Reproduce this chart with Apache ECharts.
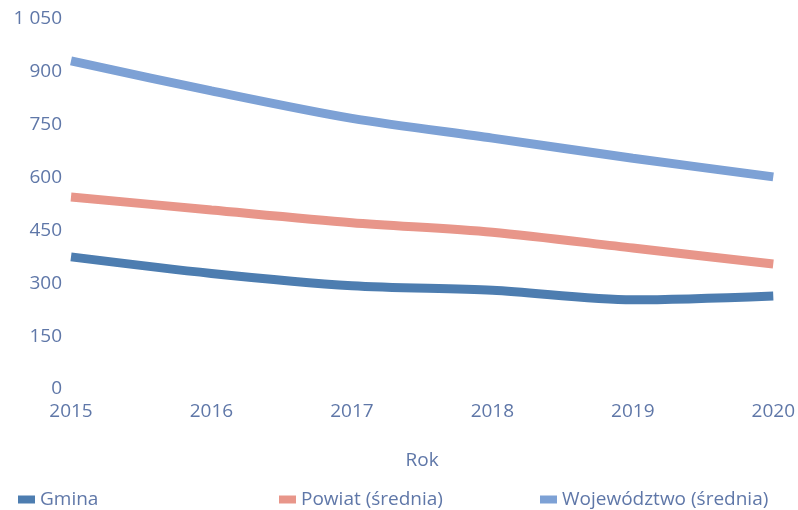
<!DOCTYPE html>
<html>
<head>
<meta charset="utf-8">
<script src="https://cdn.jsdelivr.net/npm/echarts@6/dist/echarts.min.js"></script>
<style>
  html, body { margin: 0; padding: 0; background: #fff; }
  #chart { width: 798px; height: 510px; }
</style>
</head>
<body>
<div id="chart"></div>
<script>
// lata i wartości
const years = ['2015', '2016', '2017', '2018', '2019', '2020'];
const gmina = [375, 328, 293, 280, 253, 264];
const powiat = [545, 508, 472, 445, 400, 355];
const wojewodztwo = [931, 846, 768, 712, 655, 602];

const textColor = '#5f77a8';
const font = 'Open Sans';
const fontSize = 19;

let chart = echarts.init(document.getElementById('chart'));

function legendAt(name, left) {
    return {
        data: [name],
        left: left,
        top: 485,
        icon: 'rect',
        itemWidth: 17,
        itemHeight: 8,
        itemGap: 8,
        textStyle: { color: textColor, fontFamily: font, fontSize: fontSize }
    };
}

let option = {
    animation: false,
    color: ['#4d7db0', '#e8968a', '#7da1d5'],
    grid: { left: 71, right: 24, top: 19, bottom: 121, containLabel: false },
    legend: [
        legendAt('Gmina', 13),
        legendAt('Powiat (średnia)', 274),
        legendAt('Województwo (średnia)', 535)
    ],
    xAxis: {
        type: 'category',
        data: years,
        boundaryGap: false,
        name: 'Rok',
        nameLocation: 'middle',
        nameGap: 62,
        nameTextStyle: { color: textColor, fontFamily: font, fontSize: fontSize },
        axisLine: { show: false },
        axisTick: { show: false },
        axisLabel: { color: textColor, fontFamily: font, fontSize: fontSize, margin: 13 }
    },
    yAxis: {
        type: 'value',
        min: 0,
        max: 1050,
        interval: 150,
        splitLine: { show: false },
        axisLine: { show: false },
        axisTick: { show: false },
        axisLabel: {
            color: textColor,
            fontFamily: font,
            fontSize: fontSize,
            margin: 9,
            formatter: v => String(v).replace(/\B(?=(\d{3})+(?!\d))/g, ' ')
        }
    },
    series: [
        { name: 'Gmina', type: 'line', data: gmina },
        { name: 'Powiat (średnia)', type: 'line', data: powiat },
        { name: 'Województwo (średnia)', type: 'line', data: wojewodztwo }
    ].map(s => Object.assign(s, {
        smooth: 0.3,
        symbol: 'none',
        lineStyle: { width: 9, cap: 'butt' }
    }))
};

chart.setOption(option);
</script>
</body>
</html>
